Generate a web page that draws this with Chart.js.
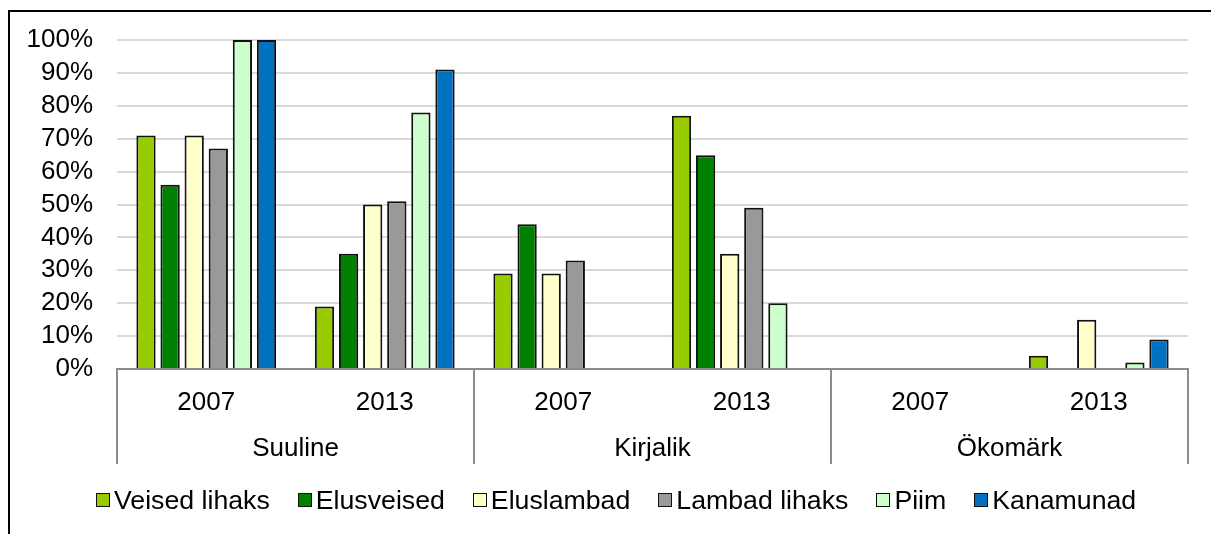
<!DOCTYPE html>
<html>
<head>
<meta charset="utf-8">
<script src="https://cdn.jsdelivr.net/npm/chart.js@4.4.1/dist/chart.umd.min.js"></script>
<style>
  html, body { margin: 0; padding: 0; background: #fff; overflow: hidden; }
  #wrap { position: relative; width: 1211px; height: 534px; }
  #frame { position: absolute; left: 8px; top: 10px; width: 3000px; height: 3000px;
           border-top: 2px solid #000; border-left: 2px solid #000; pointer-events: none; }
  #legend { position: absolute; left: 96px; top: 484px; display: flex; align-items: center;
            font-family: 'Liberation Sans', Arial, sans-serif; font-size: 26.7px; color: #000;
            white-space: nowrap; line-height: 32px; }
  #legend .item { display: flex; align-items: center; margin-right: 28px; }
  #legend .box { width: 12px; height: 12px; border: 1.5px solid #111; margin-right: 4px; }
</style>
</head>
<body>
<div id="wrap">
  <canvas id="myChart" width="1211" height="534"></canvas>
  <div id="legend"></div>
  <div id="frame"></div>
</div>
<script>
const years = ["2007", "2013", "2007", "2013", "2007", "2013"];
const groups = ["Suuline", "Kirjalik", "Ökomärk"];
const yTicks = [0, 10, 20, 30, 40, 50, 60, 70, 80, 90, 100];

const veisedLihaks = [71, 19, 29, 77, 0, 4];
const elusveised = [56, 35, 44, 65, 0, 0];
const eluslambad = [71, 50, 29, 35, 0, 15];
const lambadLihaks = [67, 51, 33, 49, 0, 0];
const piim = [100, 78, 0, 20, 0, 2];
const kanamunad = [100, 91, 0, 0, 0, 9];

const font = { family: "'Liberation Sans', Arial, sans-serif", size: 26 };

function series(label, data, color) {
  return {
    label: label,
    data: data,
    backgroundColor: color,
    borderColor: "#111",
    borderWidth: (c) => (c.raw === 0 ? 0 : 2),
    borderSkipped: "bottom",
    categoryPercentage: 0.81,
    barPercentage: 0.8,
  };
}

// vertical lines between the Suuline / Kirjalik / Ökomärk blocks
const separators = {
  id: "separators",
  afterDraw(chart) {
    const x = chart.scales.x;
    const ctx = chart.ctx;
    const half = (x.getPixelForValue(1) - x.getPixelForValue(0)) / 2;
    ctx.save();
    ctx.strokeStyle = "#8c8c8c";
    ctx.lineWidth = 2;
    for (let i = 0; i <= years.length; i += 2) {
      const px = i < years.length ? x.getPixelForValue(i) - half : x.getPixelForValue(years.length - 1) + half;
      ctx.beginPath();
      ctx.moveTo(px, x.top);
      ctx.lineTo(px, x.top + 95);
      ctx.stroke();
    }
    ctx.restore();
  },
};

const ctx = document.getElementById("myChart").getContext("2d");

const myChart = new Chart(ctx, {
  type: "bar",
  data: {
    labels: years,
    datasets: [
      series("Veised lihaks", veisedLihaks, "#99CC00"),
      series("Elusveised", elusveised, "#008000"),
      series("Eluslambad", eluslambad, "#FFFFCC"),
      series("Lambad lihaks", lambadLihaks, "#999999"),
      series("Piim", piim, "#CCFFCC"),
      series("Kanamunad", kanamunad, "#0070C0"),
    ],
  },
  options: {
    responsive: false,
    animation: false,
    layout: { padding: { top: 40, right: 23, bottom: 70, left: 0 } },
    plugins: {
      tooltip: { enabled: false },
      legend: { display: false },
    },
    scales: {
      y: {
        min: 0,
        max: 100,
        afterFit(scale) { scale.width = 117; },
        afterBuildTicks(scale) { scale.ticks = yTicks.map((v) => ({ value: v })); },
        ticks: { color: "#000", font: font, padding: 24, autoSkip: false, callback: (v) => v + "%" },
        grid: { color: "#d9d9d9", lineWidth: 2, drawTicks: false },
        border: { display: false },
      },
      x: {
        afterFit(scale) { scale.height = 47; },
        ticks: { color: "#000", font: font, padding: 18, maxRotation: 0 },
        grid: { display: false, drawTicks: false },
        border: { display: true, color: "#8c8c8c", width: 2 },
      },
      x2: {
        type: "category",
        position: "bottom",
        weight: 1,
        labels: groups,
        afterFit(scale) { scale.height = 48; },
        ticks: { color: "#000", font: font, padding: 17, maxRotation: 0 },
        grid: { display: false, drawTicks: false },
        border: { display: false },
      },
    },
  },
  plugins: [separators],
});

// legend built from the chart's own datasets
const legendEl = document.getElementById("legend");
myChart.data.datasets.forEach((ds) => {
  const item = document.createElement("div");
  item.className = "item";
  const box = document.createElement("span");
  box.className = "box";
  box.style.background = ds.backgroundColor;
  const text = document.createElement("span");
  text.textContent = ds.label;
  item.appendChild(box);
  item.appendChild(text);
  legendEl.appendChild(item);
});
</script>
</body>
</html>
